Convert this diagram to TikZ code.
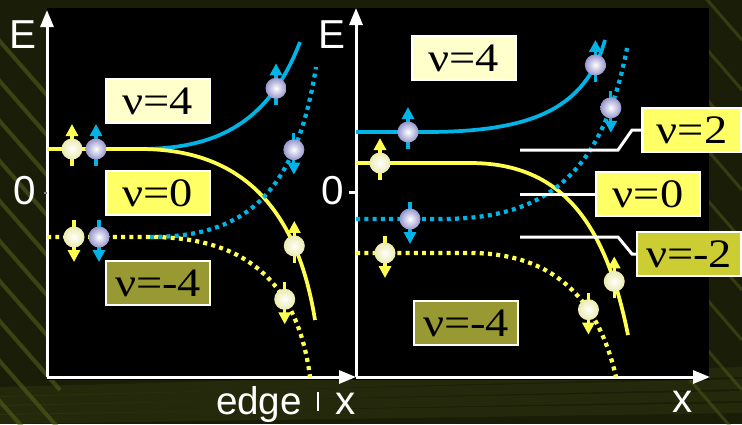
\documentclass[tikz,border=0pt]{standalone}
\usepackage{fontspec}
\setmainfont{Liberation Sans}
\newfontfamily\nufont[FakeStretch=1.15]{Liberation Serif}
\usetikzlibrary{arrows.meta}

\definecolor{bgolive}{RGB}{26,30,8}
\definecolor{streak}{RGB}{95,105,30}
\definecolor{cyanl}{RGB}{0,180,230}
\definecolor{yell}{RGB}{255,255,80}
\definecolor{lav}{RGB}{150,150,205}
\definecolor{cream}{RGB}{235,235,175}
\definecolor{fillA}{RGB}{255,255,204}
\definecolor{fillB}{RGB}{255,255,102}
\definecolor{fillC}{RGB}{204,204,51}
\definecolor{fillD}{RGB}{153,153,51}

\tikzset{
  pics/spinC/.style={code={
    \draw[spin,cyanl] (0,{-17*#1}) -- (0,{25*#1});
    \shade[inner color=white,outer color=lav] (0,0) circle (0.21cm);
  }},
  pics/spinY/.style={code={
    \draw[spin,yell] (0,{-17*#1}) -- (0,{25*#1});
    \shade[inner color=white,outer color=cream] (0,0) circle (0.21cm);
  }}
}

\begin{document}
\begin{tikzpicture}[
  x=0.02cm,y=-0.02cm,
  axis/.style={white,line width=0.06cm,-{Triangle[width=0.26cm,length=0.34cm]}},
  band/.style={line width=0.075cm},
  dots/.style={line width=0.085cm,dash pattern=on 0.08cm off 0.085cm},
  spin/.style={line width=0.065cm,-{Triangle[width=0.24cm,length=0.24cm]}},
  nubox/.style={draw=white,line width=0.05cm,minimum width=2.08cm,minimum height=0.88cm,
    inner sep=0pt,text=black,font=\nufont\fontsize{23}{23}\selectfont},
  lead/.style={white,line width=0.06cm},
  axlabel/.style={white,inner sep=0pt,font=\fontsize{23}{23}\selectfont}
]
  \useasboundingbox (0,0) rectangle (742,424);
  \fill[bgolive] (0,0) rectangle (742,424);
  % background streaks
  \foreach \i in {0,...,10}
    \draw[streak,line width=0.08cm,opacity=0.5] (-10,{30+40*\i}) -- (60,{110+40*\i});
  \foreach \i in {0,...,8}
    \draw[streak,line width=0.06cm,opacity=0.4] (690,{-20+50*\i}) -- (742,{40+50*\i});
  \foreach \i in {0,...,3}
    \draw[streak,line width=0.2cm,opacity=0.15] (0,{392+9*\i}) -- (742,{372+12*\i});
  \fill[black] (47,8) rectangle (709,380);

  % axes
  \coordinate (oL) at (47,377);
  \coordinate (oR) at (356,377);
  \coordinate (yL) at (47,10);
  \coordinate (yR) at (356,8);
  \coordinate (xL) at (356,377);
  \coordinate (xR) at (710,377);
  \draw[axis] (oL) -- (yL);
  \draw[axis] (oL) -- (xL);
  \draw[axis] (oR) -- (yR);
  \draw[axis] (oR) -- (xR);

  \node[axlabel] (EL) at (23,35) {E};
  \node[axlabel] (ER) at (332,35) {E};
  \node[axlabel] (zL) at (25,191) {0};
  \node[axlabel] (zR) at (333,191) {0};
  \draw[gray,line width=0.05cm] (44,193) -- (47,193);
  \draw[lead] (349,192) -- (356,192);
  \node[axlabel,anchor=base,font=\fontsize{22}{22}\selectfont] (edgeL) at (259,414) {edge};
  \draw[white,line width=0.05cm] (318,392) -- (318,411);
  \node[axlabel,anchor=base] (xlabL) at (346,414) {x};
  \node[axlabel,anchor=base] (xlabR) at (683,412) {x};

  % left panel
  \coordinate (fkS) at (140,149);
  \coordinate (fkD) at (150,237);
  \draw[band,cyanl] (fkS) .. controls (220,149) and (270,120) .. (300,42) coordinate[pos=0.77] (bC1);
  \draw[band,yell] (47,149) -- (fkS) .. controls (230,149) and (295,195) .. (315,320) coordinate[pos=0.77] (bY1);
  \draw[dots,cyanl] (fkD) .. controls (240,237) and (295,200) .. (316,67) coordinate[pos=0.75] (bC2);
  \draw[dots,yell] (47,237) -- (fkD) .. controls (220,237) and (295,260) .. (310,377) coordinate[pos=0.72] (bY2);

  % right panel
  \draw[band,cyanl] (356,132) -- (425,132) .. controls (530,132) and (585,110) .. (605,40) coordinate[pos=0.87] (bC3);
  \draw[band,yell] (356,163) -- (470,163) .. controls (560,163) and (605,220) .. (628,335) coordinate[pos=0.83] (bY3);
  \draw[dots,cyanl] (356,219) -- (440,219) .. controls (530,219) and (600,190) .. (627,48) coordinate[pos=0.84] (bC4);
  \draw[dots,yell] (356,253) -- (470,253) .. controls (540,253) and (595,285) .. (616,377) coordinate[pos=0.7] (bY4);

  % leaders
  \coordinate (l2) at (520,150);
  \coordinate (l0) at (520,194);
  \coordinate (lm2) at (520,237);
  \node[nubox,fill=fillB,minimum width=1.98cm] (nu2R) at (692,130) {ν=2};
  \node[nubox,fill=fillB] (nu0R) at (648,194) {ν=0};
  \node[nubox,fill=fillC] (num2R) at (689,254) {ν=-2};
  \draw[lead] (l2) -- ++(98,0) -- ++(14,-20) -- (nu2R.west);
  \draw[lead] (l0) -- (nu0R.west);
  \draw[lead] (lm2) -- ++(98,0) -- ++(14,17) -- (num2R.west);

  % filling factors
  \node[nubox,fill=fillA] (nu4L) at (158,101) {ν=4};
  \node[nubox,fill=fillB] (nu0L) at (158,193) {ν=0};
  \node[nubox,fill=fillD] (num4L) at (158,283) {ν=-4};
  \node[nubox,fill=fillA] (nu4R) at (464,58) {ν=4};
  \node[nubox,fill=fillD] (num4R) at (466,323) {ν=-4};

  % spins
  \pic at (72,149) {spinY=-1};
  \pic at (96,149) {spinC=-1};
  \pic at (74,237) {spinY=1};
  \pic at (99,237) {spinC=1};
  \pic at (bC1) {spinC=-1};
  \pic at (bC2) {spinC=1};
  \pic at (bY1) {spinY=-1};
  \pic at (bY2) {spinY=1};
  \pic at (408,132) {spinC=-1};
  \pic at (380,163) {spinY=-1};
  \pic at (410,219) {spinC=1};
  \pic at (385,253) {spinY=1};
  \pic at (bC3) {spinC=-1};
  \pic at (bC4) {spinC=1};
  \pic at (bY3) {spinY=-1};
  \pic at (bY4) {spinY=1};
\end{tikzpicture}
\end{document}
